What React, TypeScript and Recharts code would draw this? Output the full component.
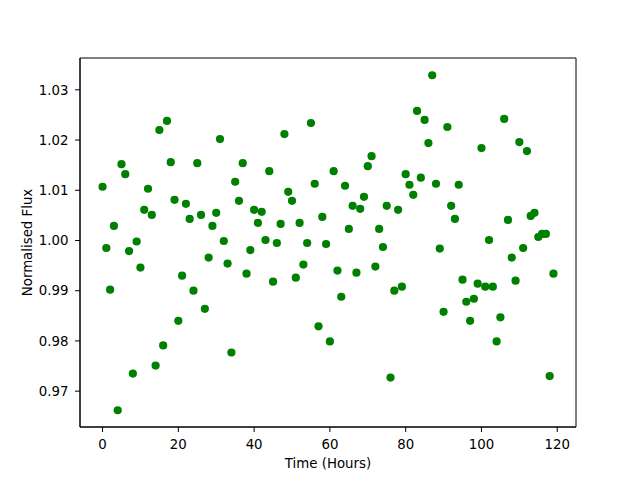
import React from 'react';
import { ScatterChart, Scatter, XAxis, YAxis, ReferenceArea, Customized } from 'recharts';

const hours: number[] = [
  0, 1, 2, 3, 4, 5, 6, 7, 8, 9, 10, 11, 12, 13, 14, 15, 16, 17, 18, 19,
  20, 21, 22, 23, 24, 25, 26, 27, 28, 29, 30, 31, 32, 33, 34, 35, 36, 37, 38, 39,
  40, 41, 42, 43, 44, 45, 46, 47, 48, 49, 50, 51, 52, 53, 54, 55, 56, 57, 58, 59,
  60, 61, 62, 63, 64, 65, 66, 67, 68, 69, 70, 71, 72, 73, 74, 75, 76, 77, 78, 79,
  80, 81, 82, 83, 84, 85, 86, 87, 88, 89, 90, 91, 92, 93, 94, 95, 96, 97, 98, 99,
  100, 101, 102, 103, 104, 105, 106, 107, 108, 109, 110, 111, 112, 113, 114, 115, 116, 117, 118, 119,
];

const flux: number[] = [
  1.0107, 0.9985, 0.9902, 1.0029, 0.9662, 1.0152, 1.0132, 0.9979, 0.9735, 0.9998,
  0.9946, 1.0061, 1.0103, 1.0051, 0.9751, 1.0220, 0.9791, 1.0238, 1.0156, 1.0081,
  0.9840, 0.9930, 1.0073, 1.0043, 0.9900, 1.0154, 1.0051, 0.9864, 0.9966, 1.0029,
  1.0055, 1.0202, 0.9999, 0.9954, 0.9777, 1.0117, 1.0079, 1.0154, 0.9934, 0.9981,
  1.0061, 1.0035, 1.0057, 1.0001, 1.0138, 0.9918, 0.9995, 1.0033, 1.0212, 1.0097,
  1.0079, 0.9926, 1.0035, 0.9952, 0.9995, 1.0234, 1.0113, 0.9829, 1.0047, 0.9993,
  0.9799, 1.0138, 0.9940, 0.9888, 1.0109, 1.0023, 1.0069, 0.9936, 1.0063, 1.0087,
  1.0148, 1.0168, 0.9948, 1.0023, 0.9987, 1.0069, 0.9727, 0.9900, 1.0061, 0.9908,
  1.0132, 1.0111, 1.0091, 1.0258, 1.0125, 1.0240, 1.0194, 1.0329, 1.0113, 0.9984,
  0.9858, 1.0226, 1.0069, 1.0043, 1.0111, 0.9922, 0.9878, 0.9840, 0.9884, 0.9914,
  1.0184, 0.9908, 1.0001, 0.9908, 0.9799, 0.9847, 1.0242, 1.0041, 0.9966, 0.9920,
  1.0196, 0.9985, 1.0178, 1.0049, 1.0055, 1.0007, 1.0013, 1.0013, 0.9730, 0.9934,
];

const xTicks: number[] = [0, 20, 40, 60, 80, 100, 120];
const yTicks: number[] = [0.97, 0.98, 0.99, 1.0, 1.01, 1.02, 1.03];

const xDomain: [number, number] = [-5.95, 124.95];
const yDomain: [number, number] = [0.96286, 1.03634];

const data = hours.map((h, i) => ({ hour: h, flux: flux[i] }));

const FONT = "'DejaVu Sans', sans-serif";
const tickStyle = { fill: '#000', fontSize: 13.33, fontFamily: FONT };

const Dot = (props: any) => (
  <circle cx={props.cx} cy={props.cy} r={4.1} fill="#008000" />
);

const Titles = () => (
  <g>
    <text x={328} y={468} textAnchor="middle" fontSize={13.33} fontFamily={FONT} fill="#000">
      Time (Hours)
    </text>
    <text
      x={31.5}
      y={242.5}
      transform="rotate(-90 31.5 242.5)"
      textAnchor="middle"
      fontSize={13.33}
      fontFamily={FONT}
      fill="#000"
    >
      Normalised Flux
    </text>
  </g>
);

export default function App() {
  return (
    <div style={{ position: 'absolute', left: 0, top: 0, width: 640, height: 480, background: '#fff' }}>
      <ScatterChart width={640} height={480} margin={{ top: 58, right: 64, bottom: 0, left: 0 }}>
        <XAxis
          type="number"
          dataKey="hour"
          domain={xDomain}
          allowDataOverflow
          ticks={xTicks}
          interval={0}
          height={53}
          tickSize={5}
          tickMargin={8}
          tick={tickStyle}
          tickLine={{ stroke: '#000' }}
          axisLine={{ stroke: '#000' }}
        />
        <YAxis
          type="number"
          dataKey="flux"
          domain={yDomain}
          allowDataOverflow
          ticks={yTicks}
          interval={0}
          width={80}
          tickSize={5}
          tickMargin={6.5}
          tick={tickStyle}
          tickFormatter={(v: number) => v.toFixed(2)}
          tickLine={{ stroke: '#000' }}
          axisLine={{ stroke: '#000' }}
        />
        <Scatter data={data} shape={Dot} isAnimationActive={false} />
        <ReferenceArea
          x1={xDomain[0]}
          x2={xDomain[1]}
          y1={yDomain[0]}
          y2={yDomain[1]}
          fill="none"
          fillOpacity={0}
          stroke="#000"
          strokeWidth={1}
          strokeOpacity={1}
        />
        <Customized component={Titles} />
      </ScatterChart>
    </div>
  );
}
